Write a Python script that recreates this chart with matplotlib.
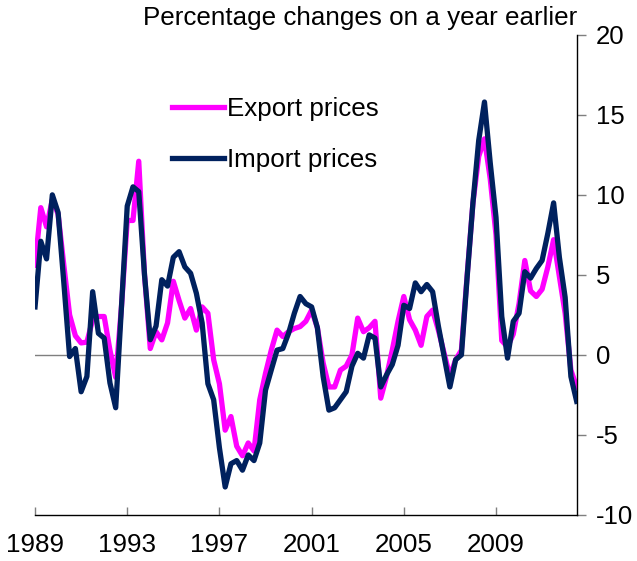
import numpy as np
import matplotlib
matplotlib.use("Agg")
import matplotlib.pyplot as plt

plt.rcParams["font.family"] = ["Liberation Sans", "DejaVu Sans"]
plt.rcParams["axes.unicode_minus"] = False

# Quarterly data, 1989 Q1 onwards (% change on a year earlier)
start_year = 1989
export_prices = [
    5.6, 9.2, 8.0, 9.7, 8.8, 5.6, 2.5, 1.2, 0.75, 0.8,
    2.2, 2.4, 2.4, 0.3, -1.4, 3.0, 8.4, 8.4, 12.1, 5.0,
    0.4, 1.45, 0.94, 2.0, 4.6, 3.4, 2.3, 2.9, 1.55, 3.0,
    2.6, -0.3, -1.8, -4.7, -3.85, -5.7, -6.3, -5.5, -6.0, -2.8,
    -1.15, 0.3, 1.55, 1.15, 1.45, 1.65, 1.77, 2.1, 2.8, 1.7,
    -0.5, -2.0, -2.0, -0.95, -0.7, 0.0, 2.3, 1.45, 1.7, 2.1,
    -2.7, -1.35, 0.3, 2.1, 3.65, 2.2, 1.55, 0.6, 2.4, 2.8,
    1.55, 0.1, -1.35, -0.3, 0.3, 5.0, 9.5, 12.4, 13.5, 11.0,
    7.5, 0.9, 0.5, 1.3, 3.2, 5.9, 4.0, 3.65, 4.1, 5.5,
    7.2, 4.9, 2.6, -0.95, -2.0,
]
import_prices = [
    3.0, 7.1, 6.0, 10.0, 8.9, 4.5, -0.1, 0.4, -2.3, -1.35,
    3.95, 1.35, 1.05, -1.75, -3.3, 3.0, 9.3, 10.5, 10.2, 5.0,
    0.95, 1.8, 4.7, 4.3, 6.1, 6.45, 5.5, 5.1, 3.85, 2.0,
    -1.8, -2.8, -5.8, -8.25, -6.8, -6.6, -7.2, -6.25, -6.6, -5.5,
    -2.2, -0.94, 0.3, 0.4, 1.35, 2.6, 3.65, 3.2, 3.0, 1.7,
    -1.35, -3.45, -3.3, -2.8, -2.3, -0.7, 0.1, -0.2, 1.25, 1.05,
    -2.0, -1.25, -0.6, 0.6, 3.1, 2.9, 4.5, 3.95, 4.4, 3.95,
    1.8, -0.1, -2.0, -0.3, 0.0, 4.9, 9.5, 13.4, 15.8, 12.0,
    8.6, 2.4, -0.2, 2.1, 2.6, 5.2, 4.8, 5.4, 5.9, 7.6,
    9.5, 6.1, 3.6, -1.35, -2.9,
]
year_ticks = [1989, 1993, 1997, 2001, 2005, 2009]
value_ticks = [-10, -5, 0, 5, 10, 15, 20]

x = start_year + np.arange(len(export_prices)) / 4.0

fig = plt.figure(figsize=(6.37, 5.61), dpi=100)
ax = fig.add_axes([0.055, 0.082, 0.851, 0.856])

ax.axhline(0, color="#7f7f7f", lw=1.0, zorder=1)
ax.plot(x, export_prices, color="#ff00ff", lw=3.8, label="Export prices", zorder=2)
ax.plot(x, import_prices, color="#00215e", lw=3.8, label="Import prices", zorder=3)

ax.set_xlim(1989, 2012.52)
ax.set_ylim(-10, 20)

for side in ["left", "top"]:
    ax.spines[side].set_visible(False)
ax.spines["bottom"].set_linewidth(1.0)
ax.spines["right"].set_linewidth(1.0)

ax.yaxis.tick_right()
ax.set_yticks(value_ticks)
ax.set_xticks(year_ticks)
ax.tick_params(axis="y", direction="out", length=6.5, width=1, color="#7f7f7f",
               pad=7, labelsize=18.5)
ax.tick_params(axis="x", direction="in", length=6, width=1, color="#7f7f7f",
               pad=13, labelsize=18.7)

ax.text(1.0, 1.035, "Percentage changes on a year earlier", transform=ax.transAxes,
        ha="right", va="center", fontsize=18.7)

ax.legend(loc="upper left", bbox_to_anchor=(0.253, 0.87), frameon=False,
          fontsize=18.7, handlelength=2.0, handletextpad=0.12,
          labelspacing=1.02, borderaxespad=0, borderpad=0)

fig.savefig("out.png", dpi=100)
